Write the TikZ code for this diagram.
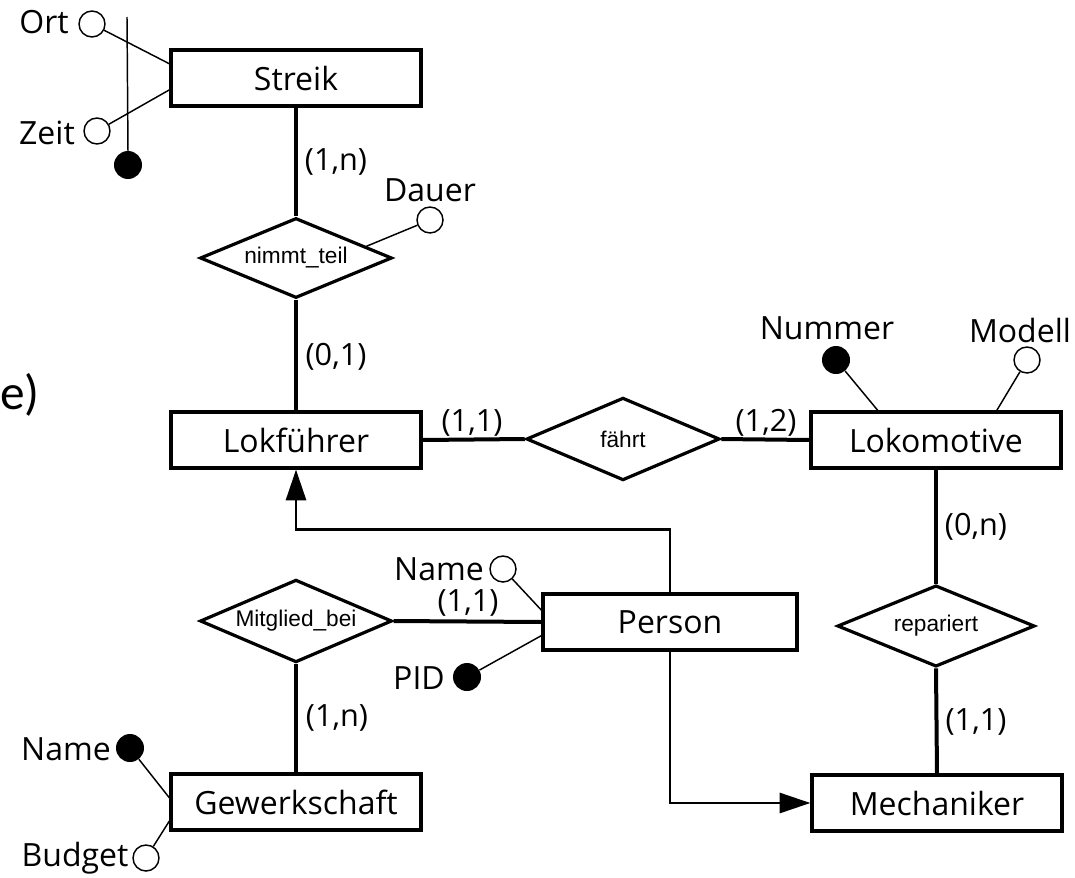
\documentclass[tikz,border=0pt]{standalone}
\usepackage{fontspec}
\setmainfont{Open Sans}
\newfontfamily\relfont{Liberation Sans}
\newfontfamily\partfont{Carlito}
\usetikzlibrary{shapes.geometric,arrows.meta,calc}

\begin{document}
\begin{tikzpicture}[x=0.75pt,y=-0.75pt,
  entity/.style={draw,line width=2.4pt,minimum width=187.5pt,minimum height=42pt,inner sep=0pt,font=\fontsize{24}{28}\selectfont},
  relation/.style={draw,shape=diamond,aspect=2.4,line width=2.4pt,minimum width=144pt,minimum height=60pt,inner sep=0pt,font=\relfont\fontsize{17}{20}\selectfont},
  attr/.style={draw,circle,line width=1.1pt,minimum size=19.5pt,inner sep=0pt,fill=white},
  keyattr/.style={circle,fill=black,minimum size=21pt,inner sep=0pt},
  txt/.style={inner sep=0pt,font=\fontsize{24}{28}\selectfont},
  card/.style={inner sep=0pt,font=\fontsize{23}{28}\selectfont},
  rel/.style={line width=3pt},
  thin/.style={line width=1.1pt},
  isa/.style={line width=2pt,-{Triangle[length=23pt,width=15pt]}}]
\useasboundingbox (0,0) rectangle (1075,878);

% part label
\node[inner sep=0pt,anchor=base west,font=\partfont\fontsize{37}{40}\selectfont] (part) at (0,409) {e)};

% entities
\node[entity] (streik) at (296,78) {Streik};
\node[entity] (lokf) at (296,440) {Lokführer};
\node[entity] (loko) at (936,440) {Lokomotive};
\node[entity,minimum width=190.5pt] (person) at (670,622) {Person};
\node[entity] (gew) at (296,802) {Gewerkschaft};
\node[entity] (mech) at (937,803) {Mechaniker};

% relationships
\node[relation] (nt) at (296,258) {nimmt\_teil};
\node[relation,minimum width=145pt,minimum height=62pt] (faehrt) at (623,439) {fährt};
\node[relation,minimum width=148pt,minimum height=61pt] (rep) at (936,626) {repariert};
\node[relation,minimum height=62pt] (mit) at (296,621) {Mitglied\_bei};

% relationship connectors and cardinalities
\draw[rel] (streik.south) -- (nt.north);
\draw[rel] (nt.south) -- (lokf.north);
\draw[rel] (lokf.east) -- (faehrt.west);
\draw[rel] (faehrt.east) -- (loko.west);
\draw[rel] (loko.south) -- (rep.north);
\draw[rel] (rep.south) -- (mech.north);
\draw[rel] (mit.east) -- (person.west);
\draw[rel] (mit.south) -- (gew.north);

\node[card] (c1) at (336,162) {(1,n)};
\node[card] (c2) at (336,357) {(0,1)};
\node[card] (c3) at (472,423) {(1,1)};
\node[card] (c4) at (766,423) {(1,2)};
\node[card] (c5) at (976,527) {(0,n)};
\node[card] (c6) at (976,722) {(1,1)};
\node[card] (c7) at (468,603) {(1,1)};
\node[card] (c8) at (337,718) {(1,n)};

% generalisation
\draw[isa] (person.north) -- ++(0,-63) -| (lokf.south);
\draw[isa] (person.south) |- (mech.west);

% attributes of Streik
\coordinate (keytop) at (127,17);
\draw[thin] (keytop) -- (128,152);
\node[attr] (ort) at (92,24) {};
\node[attr] (zeit) at (97,131) {};
\node[keyattr] (skey) at (128,165) {};
\draw[thin] (ort) -- ($(streik.north west)!0.26!(streik.south west)$);
\draw[thin] (zeit) -- ($(streik.north west)!0.7!(streik.south west)$);
\node[txt] (tort) at (44,22) {Ort};
\node[txt] (tzeit) at (47,133) {Zeit};

% attribute of nimmt_teil
\node[attr] (dauer) at (430,220) {};
\draw[thin] ($(nt.north)!0.72!(nt.east)$) -- (dauer);
\node[txt] (tdauer) at (430,190) {Dauer};

% attributes of Lokomotive
\node[keyattr] (nummer) at (836,360) {};
\node[attr] (modell) at (1027,360) {};
\draw[thin] (nummer) -- ($(loko.north west)!0.27!(loko.north east)$);
\draw[thin] (modell) -- ($(loko.north west)!0.74!(loko.north east)$);
\node[txt] (tnummer) at (827,328) {Nummer};
\node[txt] (tmodell) at (1020,330) {Modell};

% attributes of Person
\node[attr] (pname) at (503,569) {};
\node[keyattr] (pid) at (467,677) {};
\draw[thin] (pname) -- ($(person.north west)!0.3!(person.south west)$);
\draw[thin] (pid) -- ($(person.north west)!0.73!(person.south west)$);
\node[txt] (tpname) at (439,569) {Name};
\node[txt] (tpid) at (419,678) {PID};

% attributes of Gewerkschaft
\node[keyattr] (gname) at (130,748) {};
\node[attr] (budget) at (146,858) {};
\draw[thin] (gname) -- ($(gew.north west)!0.43!(gew.south west)$);
\draw[thin] (budget) -- ($(gew.north west)!0.82!(gew.south west)$);
\node[txt] (tgname) at (66,749) {Name};
\node[txt] (tbudget) at (75,858) {Budget};
\end{tikzpicture}
\end{document}
